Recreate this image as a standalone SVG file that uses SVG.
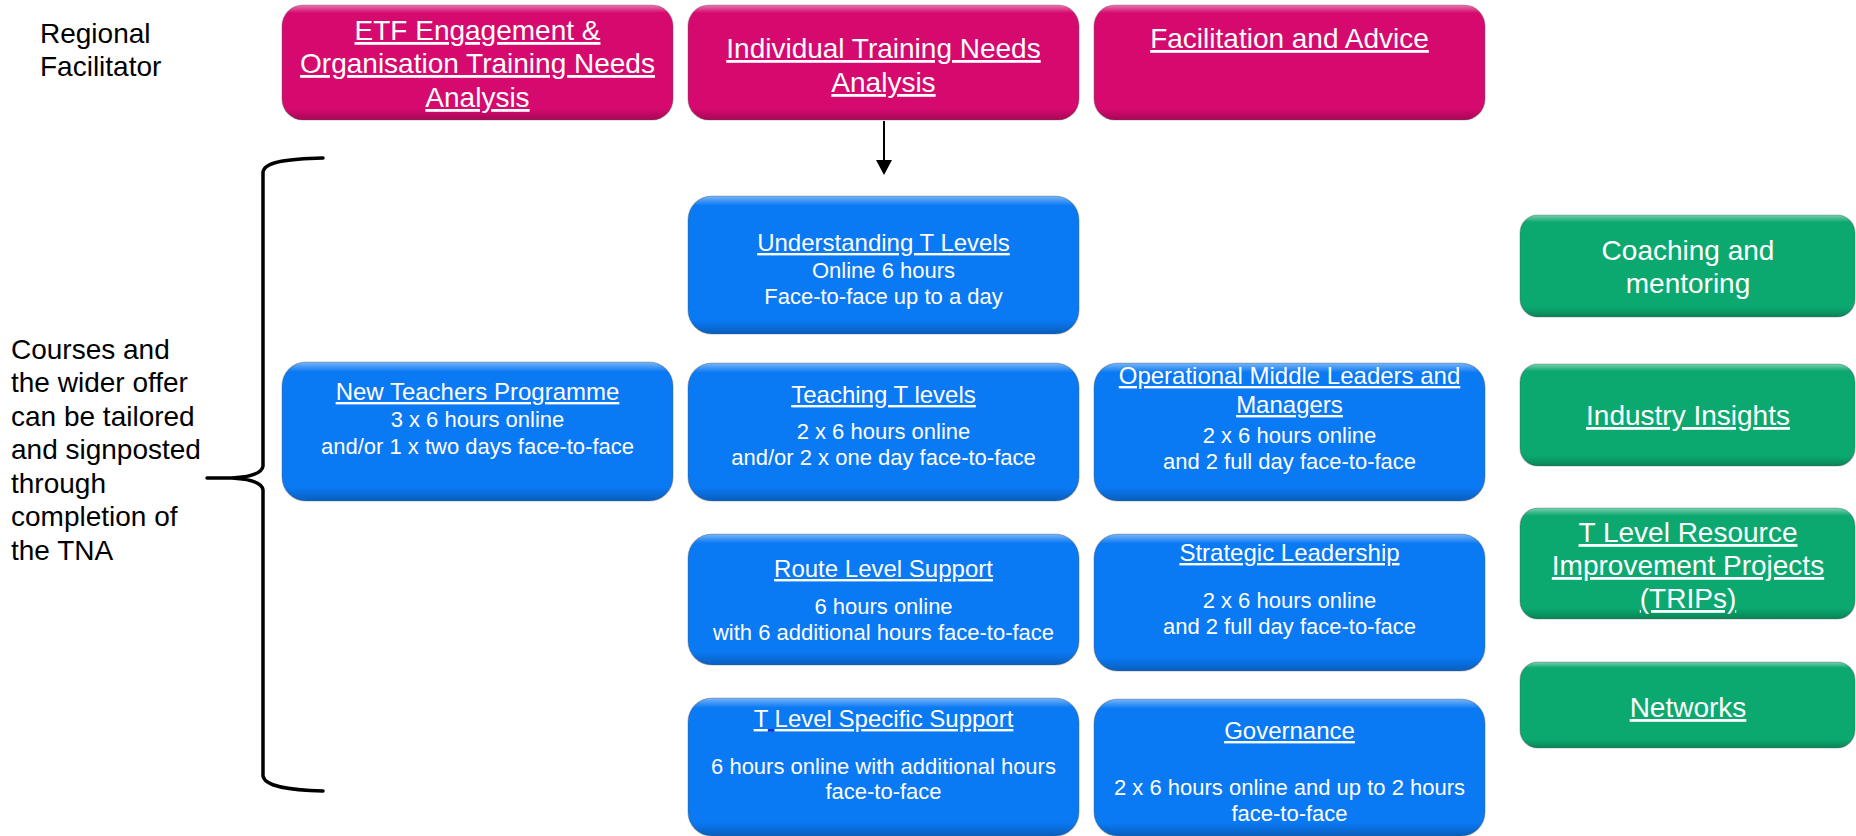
<svg xmlns="http://www.w3.org/2000/svg" width="1856" height="836" viewBox="0 0 1856 836">
<defs>
<linearGradient id="bevel" x1="0" y1="0" x2="0" y2="1">
<stop offset="0" stop-color="#ffffff" stop-opacity="0.45"/>
<stop offset="0.07" stop-color="#ffffff" stop-opacity="0"/>
<stop offset="0.9" stop-color="#000000" stop-opacity="0"/>
<stop offset="1" stop-color="#000000" stop-opacity="0.22"/>
</linearGradient>
<marker id="arr" markerWidth="10" markerHeight="10" refX="8" refY="5" orient="auto" markerUnits="userSpaceOnUse" viewBox="0 0 10 10">
</marker>
</defs>
<style>
text{font-family:"Liberation Sans",Arial,sans-serif;fill:#ffffff;}
.lbl{fill:#000000;font-size:28px;}
.pk{fill:#D6096E;}
.bl{fill:#0A79F4;}
.gr{fill:#0BA96F;}
.edge{fill:url(#bevel);stroke:#555555;stroke-opacity:0.35;stroke-width:1.2;}
.t28{font-size:28px;text-anchor:middle;}
.t24{font-size:24px;text-anchor:middle;}
.t22{font-size:22px;text-anchor:middle;}
.u{text-decoration:underline;}
.conn{stroke:#000000;stroke-width:2;fill:none;}
.brace{stroke:#000000;stroke-width:3.5;fill:none;stroke-linecap:round;stroke-linejoin:round;}
</style>
<rect x="0" y="0" width="1856" height="836" fill="#ffffff"/>

<g id="label-regional">
<text class="lbl" x="40" y="43">Regional</text>
<text class="lbl" x="40" y="76">Facilitator</text>
</g>

<g id="label-courses">
<text class="lbl" x="11" y="359">Courses and</text>
<text class="lbl" x="11" y="392">the wider offer</text>
<text class="lbl" x="11" y="426">can be tailored</text>
<text class="lbl" x="11" y="459">and signposted</text>
<text class="lbl" x="11" y="493">through</text>
<text class="lbl" x="11" y="526">completion of</text>
<text class="lbl" x="11" y="560">the TNA</text>
</g>

<g id="brace">
<path class="brace" d="M 323 158 C 290 159 265 161 263 172 L 263 466 C 262 474 250 477 232 478 L 207 478 M 232 478 C 250 479 262 482 263 490 L 263 776 C 265 787 290 790 323 791"/>
</g>

<g id="connectors">
<line class="conn" x1="884" y1="121" x2="884" y2="161"/>
<polygon points="876,160 892,160 884,175" fill="#000000"/>
</g>

<g id="etf-engagement">
<rect class="pk" x="282" y="5" width="391" height="115" rx="21"/>
<rect class="edge" x="282" y="5" width="391" height="115" rx="21"/>
<text class="t28 u" x="477.5" y="40">ETF Engagement &amp;</text>
<text class="t28 u" x="477.5" y="73">Organisation Training Needs</text>
<text class="t28 u" x="477.5" y="107">Analysis</text>
</g>

<g id="individual-tna">
<rect class="pk" x="688" y="5" width="391" height="115" rx="21"/>
<rect class="edge" x="688" y="5" width="391" height="115" rx="21"/>
<text class="t28 u" x="883.5" y="58">Individual Training Needs</text>
<text class="t28 u" x="883.5" y="92">Analysis</text>
</g>

<g id="facilitation-advice">
<rect class="pk" x="1094" y="5" width="391" height="115" rx="21"/>
<rect class="edge" x="1094" y="5" width="391" height="115" rx="21"/>
<text class="t28 u" x="1289.5" y="48">Facilitation and Advice</text>
</g>

<g id="understanding-t-levels">
<rect class="bl" x="688" y="196" width="391" height="138" rx="24"/>
<rect class="edge" x="688" y="196" width="391" height="138" rx="24"/>
<text class="t24 u" x="883.5" y="251">Understanding T Levels</text>
<text class="t22" x="883.5" y="278">Online 6 hours</text>
<text class="t22" x="883.5" y="304">Face-to-face up to a day</text>
</g>

<g id="new-teachers">
<rect class="bl" x="282" y="362" width="391" height="139" rx="24"/>
<rect class="edge" x="282" y="362" width="391" height="139" rx="24"/>
<text class="t24 u" x="477.5" y="400">New Teachers Programme</text>
<text class="t22" x="477.5" y="427">3 x 6 hours online</text>
<text class="t22" x="477.5" y="454">and/or 1 x two days face-to-face</text>
</g>

<g id="teaching-t-levels">
<rect class="bl" x="688" y="363" width="391" height="138" rx="24"/>
<rect class="edge" x="688" y="363" width="391" height="138" rx="24"/>
<text class="t24 u" x="883.5" y="403">Teaching T levels</text>
<text class="t22" x="883.5" y="439">2 x 6 hours online</text>
<text class="t22" x="883.5" y="465">and/or 2 x one day face-to-face</text>
</g>

<g id="operational-middle-leaders">
<rect class="bl" x="1094" y="363" width="391" height="138" rx="24"/>
<rect class="edge" x="1094" y="363" width="391" height="138" rx="24"/>
<text class="t24 u" x="1289.5" y="384">Operational Middle Leaders and</text>
<text class="t24 u" x="1289.5" y="413">Managers</text>
<text class="t22" x="1289.5" y="443">2 x 6 hours online</text>
<text class="t22" x="1289.5" y="469">and 2 full day face-to-face</text>
</g>

<g id="route-level-support">
<rect class="bl" x="688" y="534" width="391" height="131" rx="24"/>
<rect class="edge" x="688" y="534" width="391" height="131" rx="24"/>
<text class="t24 u" x="883.5" y="577">Route Level Support</text>
<text class="t22" x="883.5" y="614">6 hours online</text>
<text class="t22" x="883.5" y="640">with 6 additional hours face-to-face</text>
</g>

<g id="strategic-leadership">
<rect class="bl" x="1094" y="534" width="391" height="137" rx="24"/>
<rect class="edge" x="1094" y="534" width="391" height="137" rx="24"/>
<text class="t24 u" x="1289.5" y="561">Strategic Leadership</text>
<text class="t22" x="1289.5" y="608">2 x 6 hours online</text>
<text class="t22" x="1289.5" y="634">and 2 full day face-to-face</text>
</g>

<g id="t-level-specific-support">
<rect class="bl" x="688" y="698" width="391" height="138" rx="24"/>
<rect class="edge" x="688" y="698" width="391" height="138" rx="24"/>
<text class="t24" x="883.5" y="727"><tspan class="u">T</tspan><tspan class="u" style="fill:#1a2fd0"> </tspan><tspan class="u">Level Specific Support</tspan></text>
<text class="t22" x="883.5" y="774">6 hours online with additional hours</text>
<text class="t22" x="883.5" y="799">face-to-face</text>
</g>

<g id="governance">
<rect class="bl" x="1094" y="699" width="391" height="137" rx="24"/>
<rect class="edge" x="1094" y="699" width="391" height="137" rx="24"/>
<text class="t24 u" x="1289.5" y="739">Governance</text>
<text class="t22" x="1289.5" y="795">2 x 6 hours online and up to 2 hours</text>
<text class="t22" x="1289.5" y="821">face-to-face</text>
</g>

<g id="coaching-mentoring">
<rect class="gr" x="1520" y="215" width="335" height="102" rx="18"/>
<rect class="edge" x="1520" y="215" width="335" height="102" rx="18"/>
<text class="t28" x="1688" y="260">Coaching and</text>
<text class="t28" x="1688" y="293">mentoring</text>
</g>

<g id="industry-insights">
<rect class="gr" x="1520" y="364" width="335" height="102" rx="18"/>
<rect class="edge" x="1520" y="364" width="335" height="102" rx="18"/>
<text class="t28 u" x="1688" y="425">Industry Insights</text>
</g>

<g id="trips">
<rect class="gr" x="1520" y="508" width="335" height="111" rx="18"/>
<rect class="edge" x="1520" y="508" width="335" height="111" rx="18"/>
<text class="t28 u" x="1688" y="542">T Level Resource</text>
<text class="t28 u" x="1688" y="575">Improvement Projects</text>
<text class="t28 u" x="1688" y="608">(TRIPs)</text>
</g>

<g id="networks">
<rect class="gr" x="1520" y="662" width="335" height="86" rx="18"/>
<rect class="edge" x="1520" y="662" width="335" height="86" rx="18"/>
<text class="t28 u" x="1688" y="717">Networks</text>
</g>
</svg>
